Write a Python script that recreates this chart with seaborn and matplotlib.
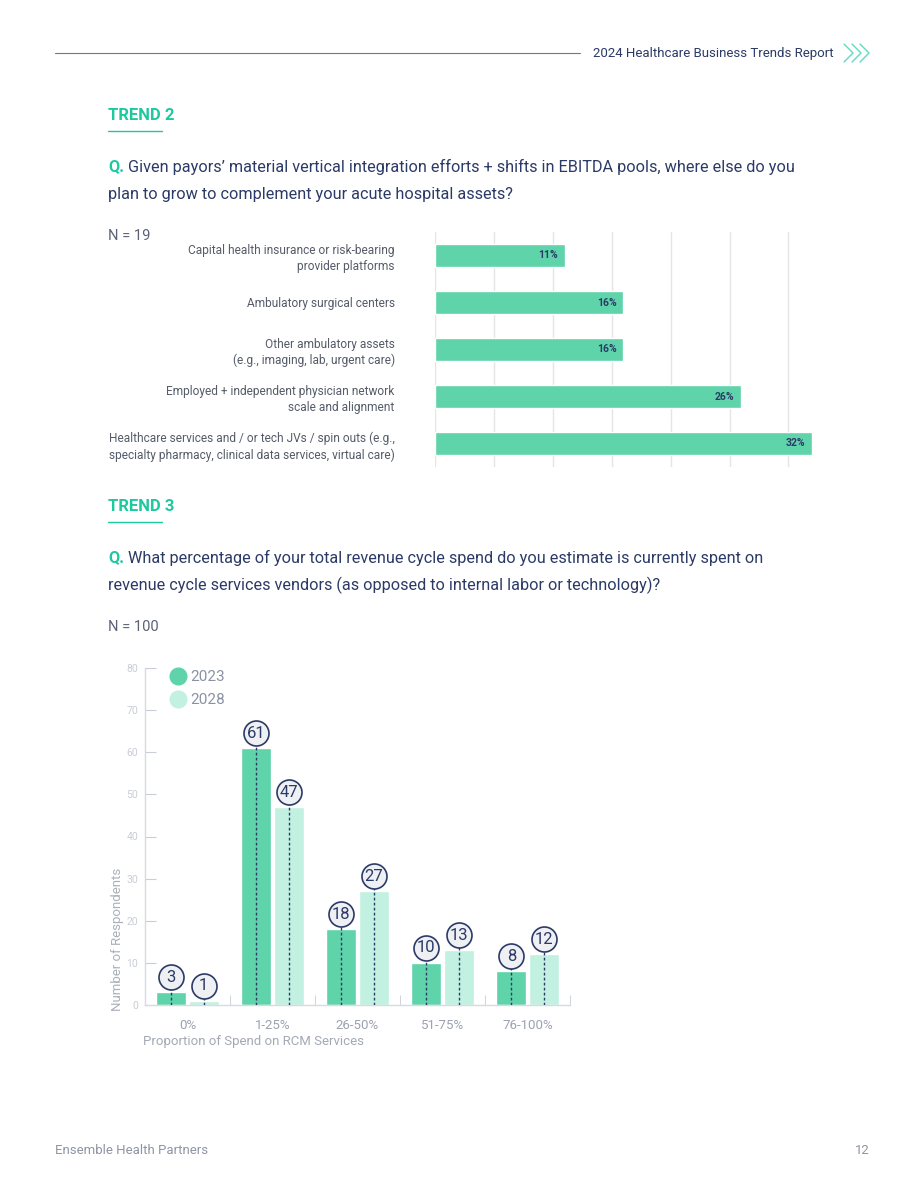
import pandas as pd
import matplotlib
matplotlib.use('Agg')
import matplotlib.pyplot as plt
import matplotlib.transforms as mtransforms
from matplotlib.lines import Line2D
import seaborn as sns

# data
growth_labels = [
    'Capital health insurance or risk-bearing\nprovider platforms',
    'Ambulatory surgical centers',
    'Other ambulatory assets\n(e.g., imaging, lab, urgent care)',
    'Employed + independent physician network\nscale and alignment',
    'Healthcare services and / or tech JVs / spin outs (e.g.,\nspecialty pharmacy, clinical data services, virtual care)',
]
growth_pct = [11, 16, 16, 26, 32]

spend_bins = ['0%', '1-25%', '26-50%', '51-75%', '76-100%']
years = ['2023', '2028']
resp_2023 = [3, 61, 18, 10, 8]
resp_2028 = [1, 47, 27, 13, 12]

# colours
TEAL = '#1fc9a0'
NAVY = '#2b3a67'
BAR1 = '#5fd3a9'
BAR2 = '#c2f0e1'
LIGHT = '#c9cdd5'

sns.set_style('white')
plt.rcParams['font.family'] = ['Roboto', 'DejaVu Sans']

W, H = 920, 1191
fig = plt.figure(figsize=(W / 100, H / 100), dpi=100)


def px(x, y):
    return x / W, 1 - y / H


def rect(x0, y0, x1, y1):
    return [x0 / W, 1 - y1 / H, (x1 - x0) / W, (y1 - y0) / H]


# header / footer
fig.add_artist(Line2D([55 / W, 580 / W], [1 - 53 / H] * 2, color='#6b7796', lw=0.8))
fig.text(*px(593, 53), '2024 Healthcare Business Trends Report', color=NAVY,
         fontsize=9.5, va='center', ha='left')
for cx in (844, 852, 860):
    fig.add_artist(Line2D([cx / W, (cx + 9) / W, cx / W],
                          [1 - 44 / H, 1 - 53 / H, 1 - 62 / H], color='#5fdcc0', lw=1))
fig.text(*px(55, 1151), 'Ensemble Health Partners', color='#8e95a3', fontsize=9.5, va='center')
fig.text(*px(870, 1151), '12', color='#8e95a3', fontsize=9.5, va='center', ha='right')


def trend_heading(title, y, q_lines):
    fig.text(*px(108, y), title, color=TEAL, fontsize=12, fontweight='bold', va='center')
    fig.add_artist(Line2D([108 / W, 162 / W], [1 - (y + 16) / H] * 2, color=TEAL, lw=1))
    qy = y + 52
    for i, line in enumerate(q_lines):
        yy = qy + i * 27
        if i == 0:
            fig.text(*px(108, yy), 'Q.', color=TEAL, fontsize=11.7, fontweight='bold', va='center')
            fig.text(*px(128, yy), line, color=NAVY, fontsize=11.7, va='center')
        else:
            fig.text(*px(108, yy), line, color=NAVY, fontsize=11.7, va='center')


trend_heading('TREND 2', 115, [
    'Given payors\u2019 material vertical integration efforts + shifts in EBITDA pools, where else do you',
    'plan to grow to complement your acute hospital assets?'])
fig.text(*px(108, 236), 'N = 19', color='#5a6275', fontsize=10.5, va='center')

trend_heading('TREND 3', 506, [
    'What percentage of your total revenue cycle spend do you estimate is currently spent on',
    'revenue cycle services vendors (as opposed to internal labor or technology)?'])
fig.text(*px(108, 627), 'N = 100', color='#5a6275', fontsize=10.5, va='center')

# ---- top chart: horizontal bars
ax1 = fig.add_axes(rect(435, 232, 812, 467))
df1 = pd.DataFrame({'label': growth_labels, 'pct': growth_pct})
sns.barplot(data=df1, y='label', x='pct', color=BAR1, width=0.5, saturation=1, ax=ax1, zorder=2)
ax1.set_xlim(0, 32)
ax1.set_xticks(range(0, 31, 5))
ax1.xaxis.grid(True, color='#e3e5e8', lw=1, zorder=0)
ax1.set_axisbelow(True)
ax1.set_xticklabels([])
ax1.set_xlabel('')
ax1.set_ylabel('')
ax1.tick_params(axis='y', length=0, pad=29, labelsize=8.6, labelcolor='#555b68')
ax1.tick_params(axis='x', length=0)
for lab in ax1.get_yticklabels():
    lab.set_linespacing(1.3)
for s in ax1.spines.values():
    s.set_visible(False)
lab_tr = mtransforms.offset_copy(ax1.transData, fig=fig, x=-7, y=0, units='dots')
for patch in ax1.containers[0].patches:
    ax1.text(patch.get_width(), patch.get_y() + patch.get_height() / 2,
             f'{patch.get_width():.0f}%', transform=lab_tr, ha='right', va='center',
             color=NAVY, fontsize=7.5, fontweight='bold', zorder=3)

# ---- bottom chart: grouped bars
ax2 = fig.add_axes(rect(145, 668, 570, 1005))
df2 = pd.DataFrame({
    'bin': spend_bins * 2,
    'year': [years[0]] * len(spend_bins) + [years[1]] * len(spend_bins),
    'n': resp_2023 + resp_2028,
})
sns.barplot(data=df2, x='bin', y='n', hue='year', palette=[BAR1, BAR2], saturation=1,
            width=0.76, gap=0.08, legend=False, ax=ax2, zorder=2)
ax2.set_ylim(0, 80)
ax2.set_xlim(-0.5, len(spend_bins) - 0.5)
ax2.set_yticks(range(0, 81, 10))
ax2.set_xticks([i + 0.5 for i in range(len(spend_bins))], minor=True)
ax2.tick_params(axis='y', direction='in', length=8, color=LIGHT, labelsize=7.5,
                labelcolor=LIGHT, pad=5, left=True)
ax2.tick_params(axis='x', which='major', length=0, labelsize=9.5, labelcolor='#9ba2b0', pad=10)
ax2.tick_params(axis='x', which='minor', direction='in', length=7, color=LIGHT, bottom=True)
for side in ['top', 'right']:
    ax2.spines[side].set_visible(False)
for side in ['left', 'bottom']:
    ax2.spines[side].set_color('#d6dae1')
    ax2.spines[side].set_linewidth(1)

ax2.set_ylabel('Number of Respondents', color='#a9afba', fontsize=9.5)
ax2.yaxis.set_label_coords(-0.05, 0.196)
ax2.set_xlabel('Proportion of Spend on RCM Services', color='#a3a9b5', fontsize=9.5, ha='left')
ax2.xaxis.set_label_coords(-0.005, -0.088)

circ_tr = mtransforms.offset_copy(ax2.transData, fig=fig, x=0, y=15, units='dots')
for cont in ax2.containers:
    for patch in cont.patches:
        xc = patch.get_x() + patch.get_width() / 2
        v = patch.get_height()
        ax2.plot([xc, xc], [0, v + 2], color=NAVY, lw=1, ls=(0, (2, 1.6)), zorder=3)
        ax2.plot([xc], [v], marker='o', ms=18, mfc='#eef0f4', mec=NAVY, mew=1.2,
                 transform=circ_tr, zorder=4, clip_on=False)
        ax2.text(xc, v, f'{v:.0f}', transform=circ_tr, ha='center', va='center',
                 color=NAVY, fontsize=12, zorder=5)

handles = [Line2D([], [], ls='', marker='o', ms=12, mfc=c, mec=c) for c in (BAR1, BAR2)]
ax2.legend(handles, years, loc='upper left', bbox_to_anchor=(0.045, 1.012), frameon=False,
           fontsize=11, labelcolor='#8a92a3', handletextpad=0.3, labelspacing=0.6,
           borderaxespad=0, handlelength=1)

fig.savefig('out.png', dpi=100)
